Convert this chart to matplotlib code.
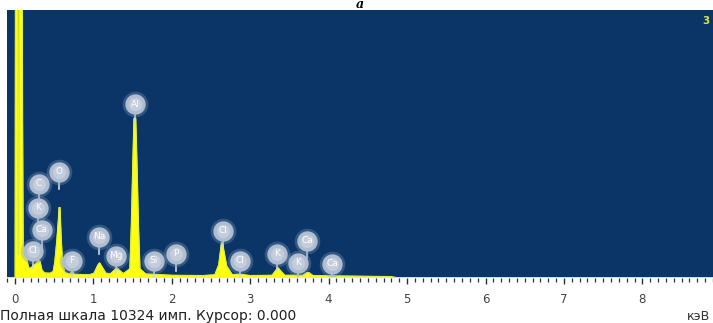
import matplotlib
matplotlib.use("Agg")
import matplotlib.pyplot as plt
from matplotlib.ticker import MultipleLocator

# spectrum outline: energy (keV) and counts
energy = [-0.10, 0.005, 0.015, 0.032, 0.040, 0.050, 0.057, 0.064, 0.082, 0.096,
          0.105, 0.13, 0.17, 0.19, 0.23, 0.27, 0.30, 0.32, 0.345, 0.38,
          0.45, 0.49, 0.51, 0.535, 0.555, 0.565, 0.575, 0.59, 0.61, 0.64,
          0.70, 0.73, 0.76, 0.95, 1.01, 1.06, 1.08, 1.10, 1.16, 1.22,
          1.28, 1.30, 1.33, 1.38, 1.40, 1.467, 1.486, 1.505, 1.520, 1.540,
          1.556, 1.575, 1.594, 1.67, 2.00, 2.40, 2.55, 2.60, 2.635, 2.645,
          2.70, 2.77, 2.87, 3.00, 3.28, 3.33, 3.355, 3.38, 3.44, 3.67,
          3.72, 3.75, 3.80, 4.20, 4.78, 4.90, 8.90]
counts = [0, 0, 30000, 30000, 900, 900, 7230, 30000, 30000, 7230,
          1240, 1100, 450, 350, 450, 560, 660, 640, 300, 190,
          180, 250, 600, 1400, 2200, 2707, 2707, 1500, 500, 200,
          150, 250, 140, 120, 180, 500, 580, 480, 180, 160,
          330, 390, 300, 170, 200, 350, 2011, 4408, 6148, 6148,
          4408, 2011, 350, 150, 100, 90, 120, 500, 1353, 1353,
          460, 130, 140, 90, 100, 300, 390, 300, 100, 100,
          200, 200, 90, 70, 50, 0, 0]

# element markers: name, energy (keV), height of the marker (counts)
el_names = ["Al", "O", "C", "K", "Ca", "Cl", "F", "Na", "Mg", "Si", "P",
            "Cl", "Cl", "K", "K", "Ca", "Ca"]
el_energy = [1.531, 0.561, 0.306, 0.293, 0.344, 0.230, 0.727, 1.071, 1.288,
             1.773, 2.054, 2.653, 2.870, 3.342, 3.610, 3.724, 4.043]
el_counts = [6690, 4099, 3635, 2707, 1856, 1044, 657, 1585, 851, 657, 928,
             1817, 657, 928, 580, 1431, 541]

full_scale = 10324
tick_labels = ["0", "1", "2", "3", "4", "5", "6", "7", "8"]

fig = plt.figure(figsize=(7.13, 3.23), dpi=100)
ax = fig.add_axes([7 / 713, 45 / 323, 706 / 713, 268 / 323])
ax.set_facecolor("#0a3566")
ax.set_xlim(-0.10, 8.90)
ax.set_ylim(0, full_scale)

ax.fill(energy, counts, color="#ffff10", zorder=2)
ax.plot(energy, counts, color="#d8ec50", lw=0.7, zorder=3)

# round element tags with a short stem down to the line
px = full_scale / 267.0
for name, e, c in zip(el_names, el_energy, el_counts):
    ax.plot([e, e], [c - 9 * px, c - 17 * px], color="#d0d8e4", lw=1.2, zorder=4)
    ax.scatter([e], [c], s=340, color="#7f98bc", alpha=0.35, lw=0, zorder=5)
    ax.scatter([e], [c], s=215, color="#b0bcd0", lw=0, zorder=6)
    ax.scatter([e], [c], s=90, color="#cdd5e2", alpha=0.7, lw=0, zorder=7)
    ax.text(e, c, name, color="white", fontsize=6.5, ha="center", va="center",
            zorder=8)

ax.text(0.995, 0.96, "3", transform=ax.transAxes, color="#d8e848",
        fontsize=7.5, fontweight="bold", ha="right", va="center")

for s in ax.spines.values():
    s.set_visible(False)
ax.set_yticks([])
ax.xaxis.set_major_locator(MultipleLocator(1))
ax.xaxis.set_minor_locator(MultipleLocator(0.1))
ax.set_xticks(range(len(tick_labels)))
ax.set_xticklabels(tick_labels)
ax.tick_params(axis="x", which="major", direction="out", length=4.5, width=1.0,
               color="#22304e", pad=6, labelsize=8.5, labelcolor="#404448")
ax.tick_params(axis="x", which="minor", direction="out", length=3.2, width=0.9,
               color="#22304e")

fig.text(0.0, 1 - 316 / 323, "Полная шкала 10324 имп. Курсор: 0.000",
         fontsize=10, color="#202020", ha="left", va="center")
fig.text(710 / 713, 1 - 316 / 323, "кэВ", fontsize=9, color="#303030",
         ha="right", va="center")
fig.text(360 / 713, 1 - 8.5 / 323, "a", fontsize=9, family="DejaVu Serif",
         fontstyle="italic", fontweight="bold", ha="center", va="baseline")

fig.savefig("out.png", dpi=100)
